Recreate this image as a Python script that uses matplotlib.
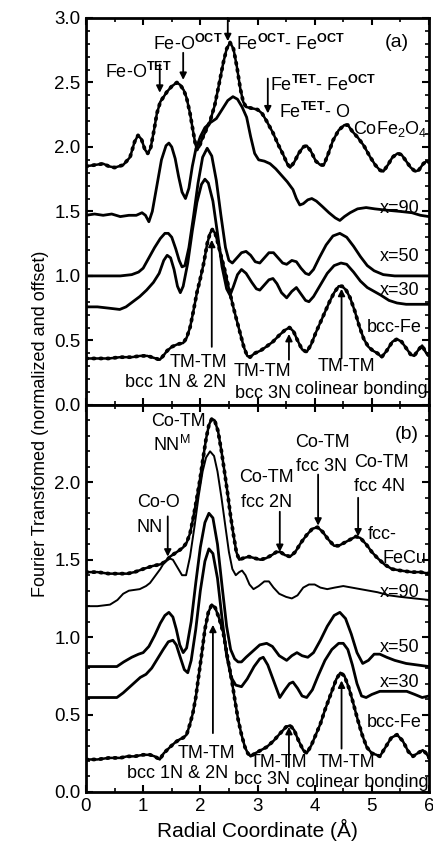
import matplotlib
matplotlib.use("Agg")
import matplotlib.pyplot as plt
from matplotlib.ticker import MultipleLocator
import matplotlib.font_manager as fm

plt.rcParams['font.family'] = ['Liberation Sans', 'DejaVu Sans']
plt.rcParams['mathtext.fontset'] = 'custom'
plt.rcParams['mathtext.rm'] = 'Liberation Sans'
plt.rcParams['mathtext.bf'] = 'Liberation Sans:bold'
plt.rcParams['mathtext.it'] = 'Liberation Sans:italic'

# ---------------- panel (a) data ----------------
a_cofe_r = [0.00, 0.15, 0.30, 0.40, 0.50, 0.65, 0.77, 0.85, 0.91, 0.97, 1.03, 1.08, 1.13, 1.19, 1.24, 1.30, 1.36, 1.42, 1.50, 1.59, 1.65, 1.71, 1.76, 1.82, 1.87, 1.91, 1.94, 1.98, 2.03, 2.10, 2.17, 2.25, 2.32, 2.40, 2.46, 2.52, 2.58, 2.64, 2.70, 2.75, 2.80, 2.90, 3.00, 3.08, 3.16, 3.27, 3.36, 3.45, 3.52, 3.57, 3.64, 3.72, 3.80, 3.86, 3.93, 4.02, 4.10, 4.16, 4.24, 4.32, 4.42, 4.52, 4.58, 4.66, 4.76, 4.86, 4.96, 5.06, 5.14, 5.20, 5.28, 5.36, 5.45, 5.52, 5.60, 5.68, 5.76, 5.82, 5.90, 5.96, 6.00]
a_cofe_y = [1.85, 1.86, 1.87, 1.85, 1.84, 1.86, 1.92, 2.04, 2.09, 2.06, 1.98, 1.95, 1.99, 2.13, 2.26, 2.35, 2.39, 2.43, 2.47, 2.50, 2.48, 2.44, 2.38, 2.26, 2.13, 2.03, 1.98, 2.00, 2.06, 2.13, 2.20, 2.32, 2.47, 2.65, 2.76, 2.81, 2.76, 2.62, 2.45, 2.35, 2.31, 2.30, 2.29, 2.26, 2.20, 2.11, 2.02, 1.94, 1.87, 1.84, 1.88, 1.95, 2.00, 2.01, 1.97, 1.89, 1.86, 1.86, 1.95, 2.05, 2.13, 2.17, 2.17, 2.12, 2.07, 2.01, 1.93, 1.86, 1.82, 1.81, 1.86, 1.92, 1.95, 1.94, 1.89, 1.84, 1.81, 1.82, 1.87, 1.89, 1.88]

a_x90_r = [0.00, 0.15, 0.30, 0.45, 0.60, 0.75, 0.88, 0.98, 1.04, 1.10, 1.16, 1.24, 1.32, 1.40, 1.45, 1.50, 1.56, 1.62, 1.68, 1.74, 1.80, 1.86, 1.92, 2.00, 2.08, 2.18, 2.28, 2.38, 2.48, 2.57, 2.65, 2.73, 2.81, 2.88, 2.95, 3.02, 3.12, 3.22, 3.32, 3.42, 3.52, 3.62, 3.68, 3.74, 3.80, 3.88, 3.95, 4.03, 4.13, 4.25, 4.36, 4.44, 4.52, 4.62, 4.75, 4.90, 5.05, 5.25, 5.50, 5.70, 5.85, 6.00]
a_x90_y = [1.47, 1.48, 1.47, 1.48, 1.46, 1.47, 1.47, 1.49, 1.47, 1.42, 1.50, 1.70, 1.90, 2.01, 2.03, 2.00, 1.91, 1.77, 1.65, 1.60, 1.68, 1.85, 1.98, 2.08, 2.15, 2.19, 2.22, 2.29, 2.36, 2.39, 2.37, 2.31, 2.23, 2.08, 1.95, 1.90, 1.89, 1.87, 1.83, 1.78, 1.73, 1.67, 1.60, 1.55, 1.56, 1.59, 1.60, 1.58, 1.54, 1.49, 1.45, 1.43, 1.46, 1.49, 1.52, 1.53, 1.52, 1.51, 1.50, 1.49, 1.47, 1.46]

a_x50_r = [0.00, 0.30, 0.60, 0.80, 0.92, 1.00, 1.10, 1.20, 1.30, 1.38, 1.44, 1.50, 1.57, 1.63, 1.68, 1.73, 1.80, 1.88, 1.96, 2.04, 2.12, 2.20, 2.28, 2.36, 2.44, 2.50, 2.56, 2.64, 2.72, 2.80, 2.88, 2.96, 3.04, 3.12, 3.20, 3.28, 3.36, 3.44, 3.51, 3.60, 3.68, 3.76, 3.84, 3.90, 3.98, 4.08, 4.20, 4.32, 4.44, 4.56, 4.68, 4.80, 4.92, 5.04, 5.20, 5.40, 5.70, 6.00]
a_x50_y = [1.00, 1.00, 1.00, 1.01, 1.03, 1.06, 1.14, 1.22, 1.29, 1.33, 1.33, 1.30, 1.21, 1.12, 1.07, 1.08, 1.22, 1.46, 1.72, 1.92, 1.99, 1.93, 1.74, 1.47, 1.22, 1.12, 1.10, 1.14, 1.18, 1.19, 1.16, 1.11, 1.10, 1.14, 1.18, 1.18, 1.14, 1.10, 1.09, 1.12, 1.11, 1.06, 1.02, 1.01, 1.05, 1.14, 1.24, 1.31, 1.33, 1.30, 1.23, 1.15, 1.08, 1.04, 1.01, 1.00, 1.00, 1.00]

a_x30_r = [0.00, 0.20, 0.40, 0.59, 0.70, 0.82, 0.94, 1.06, 1.18, 1.28, 1.36, 1.42, 1.48, 1.54, 1.60, 1.65, 1.70, 1.78, 1.86, 1.94, 2.02, 2.08, 2.14, 2.22, 2.30, 2.38, 2.46, 2.52, 2.58, 2.65, 2.72, 2.80, 2.90, 2.98, 3.04, 3.12, 3.20, 3.27, 3.34, 3.42, 3.51, 3.60, 3.68, 3.76, 3.84, 3.90, 3.98, 4.10, 4.22, 4.34, 4.46, 4.56, 4.68, 4.80, 4.92, 5.04, 5.16, 5.30, 5.44, 5.60, 5.80, 6.00]
a_x30_y = [0.76, 0.76, 0.75, 0.74, 0.76, 0.80, 0.84, 0.89, 0.95, 1.02, 1.12, 1.16, 1.14, 1.05, 0.92, 0.87, 0.92, 1.10, 1.35, 1.57, 1.71, 1.75, 1.72, 1.58, 1.33, 1.07, 0.90, 0.85, 0.92, 1.01, 1.05, 1.02, 0.95, 0.90, 0.89, 0.93, 0.97, 0.98, 0.94, 0.87, 0.83, 0.88, 0.91, 0.86, 0.81, 0.80, 0.84, 0.93, 1.02, 1.08, 1.10, 1.09, 1.03, 0.96, 0.91, 0.88, 0.85, 0.81, 0.79, 0.78, 0.78, 0.78]

a_bcc_r = [0.00, 0.20, 0.40, 0.60, 0.80, 0.95, 1.07, 1.15, 1.22, 1.29, 1.35, 1.42, 1.50, 1.60, 1.70, 1.76, 1.82, 1.88, 1.94, 2.00, 2.06, 2.12, 2.17, 2.21, 2.26, 2.31, 2.36, 2.43, 2.50, 2.57, 2.64, 2.70, 2.76, 2.82, 2.87, 2.95, 3.05, 3.15, 3.27, 3.38, 3.48, 3.56, 3.63, 3.70, 3.78, 3.86, 3.94, 4.02, 4.10, 4.18, 4.26, 4.34, 4.42, 4.48, 4.55, 4.62, 4.70, 4.78, 4.86, 4.94, 5.02, 5.10, 5.17, 5.26, 5.36, 5.44, 5.52, 5.60, 5.68, 5.74, 5.82, 5.88, 5.94, 6.00]
a_bcc_y = [0.36, 0.36, 0.36, 0.37, 0.37, 0.38, 0.38, 0.37, 0.36, 0.35, 0.38, 0.42, 0.45, 0.47, 0.48, 0.52, 0.60, 0.73, 0.87, 0.98, 1.10, 1.25, 1.33, 1.36, 1.33, 1.25, 1.16, 1.04, 0.90, 0.77, 0.65, 0.55, 0.45, 0.38, 0.37, 0.40, 0.42, 0.45, 0.49, 0.54, 0.58, 0.60, 0.57, 0.50, 0.43, 0.41, 0.47, 0.56, 0.64, 0.72, 0.80, 0.87, 0.92, 0.92, 0.89, 0.83, 0.73, 0.61, 0.51, 0.45, 0.42, 0.40, 0.37, 0.42, 0.49, 0.51, 0.49, 0.44, 0.39, 0.38, 0.43, 0.46, 0.41, 0.38]

# ---------------- panel (b) data ----------------
b_fecu_r = [0.00, 0.20, 0.40, 0.60, 0.72, 0.85, 1.00, 1.17, 1.30, 1.40, 1.47, 1.55, 1.63, 1.70, 1.76, 1.82, 1.87, 1.93, 1.99, 2.05, 2.10, 2.15, 2.20, 2.25, 2.31, 2.37, 2.43, 2.48, 2.53, 2.58, 2.63, 2.68, 2.75, 2.85, 2.95, 3.05, 3.15, 3.25, 3.33, 3.40, 3.48, 3.57, 3.66, 3.76, 3.86, 3.96, 4.05, 4.14, 4.24, 4.34, 4.42, 4.52, 4.62, 4.72, 4.80, 4.90, 5.00, 5.10, 5.22, 5.35, 5.50, 5.70, 5.85, 6.00]
b_fecu_y = [1.42, 1.42, 1.41, 1.41, 1.41, 1.42, 1.44, 1.46, 1.47, 1.49, 1.52, 1.54, 1.56, 1.58, 1.61, 1.67, 1.76, 1.88, 2.01, 2.16, 2.28, 2.37, 2.41, 2.40, 2.33, 2.20, 2.05, 1.92, 1.78, 1.66, 1.55, 1.50, 1.51, 1.52, 1.51, 1.50, 1.51, 1.53, 1.55, 1.55, 1.53, 1.52, 1.55, 1.61, 1.66, 1.70, 1.71, 1.68, 1.63, 1.59, 1.59, 1.61, 1.63, 1.65, 1.64, 1.60, 1.55, 1.51, 1.47, 1.44, 1.43, 1.42, 1.42, 1.41]

b_x90_r = [0.00, 0.20, 0.42, 0.55, 0.65, 0.75, 0.94, 1.05, 1.12, 1.22, 1.30, 1.38, 1.45, 1.52, 1.60, 1.68, 1.75, 1.82, 1.90, 1.97, 2.04, 2.10, 2.17, 2.24, 2.30, 2.37, 2.44, 2.50, 2.56, 2.62, 2.68, 2.73, 2.79, 2.86, 2.93, 3.02, 3.12, 3.20, 3.28, 3.38, 3.50, 3.60, 3.70, 3.80, 3.90, 4.00, 4.10, 4.22, 4.35, 4.50, 4.65, 4.80, 4.95, 5.10, 5.30, 5.50, 5.75, 6.00]
b_x90_y = [1.20, 1.20, 1.21, 1.24, 1.28, 1.30, 1.31, 1.33, 1.35, 1.40, 1.44, 1.49, 1.51, 1.50, 1.45, 1.40, 1.40, 1.52, 1.72, 1.91, 2.07, 2.16, 2.20, 2.17, 2.07, 1.90, 1.71, 1.55, 1.44, 1.40, 1.42, 1.43, 1.40, 1.34, 1.31, 1.33, 1.36, 1.36, 1.32, 1.28, 1.26, 1.25, 1.27, 1.32, 1.34, 1.34, 1.32, 1.31, 1.32, 1.33, 1.32, 1.31, 1.30, 1.29, 1.27, 1.26, 1.25, 1.24]

b_x50_r = [0.00, 0.20, 0.40, 0.54, 0.66, 0.80, 0.92, 1.00, 1.10, 1.20, 1.30, 1.38, 1.45, 1.52, 1.58, 1.64, 1.70, 1.76, 1.84, 1.92, 2.00, 2.08, 2.15, 2.22, 2.30, 2.38, 2.46, 2.53, 2.60, 2.66, 2.72, 2.80, 2.92, 3.04, 3.16, 3.26, 3.38, 3.51, 3.60, 3.69, 3.78, 3.88, 3.98, 4.10, 4.22, 4.34, 4.44, 4.54, 4.64, 4.74, 4.84, 4.94, 5.04, 5.14, 5.26, 5.40, 5.60, 5.80, 6.00]
b_x50_y = [0.81, 0.81, 0.81, 0.81, 0.84, 0.87, 0.89, 0.90, 0.94, 1.01, 1.09, 1.14, 1.16, 1.13, 1.05, 0.95, 0.90, 0.93, 1.10, 1.35, 1.58, 1.74, 1.80, 1.77, 1.60, 1.33, 1.07, 0.92, 0.86, 0.84, 0.84, 0.87, 0.91, 0.95, 0.96, 0.94, 0.88, 0.85, 0.88, 0.90, 0.88, 0.87, 0.90, 0.98, 1.07, 1.14, 1.16, 1.12, 1.02, 0.90, 0.83, 0.85, 0.89, 0.89, 0.87, 0.85, 0.83, 0.82, 0.81]

b_x30_r = [0.00, 0.20, 0.40, 0.54, 0.65, 0.80, 0.95, 1.05, 1.15, 1.25, 1.35, 1.44, 1.52, 1.58, 1.64, 1.72, 1.78, 1.84, 1.92, 2.00, 2.08, 2.15, 2.22, 2.30, 2.38, 2.46, 2.54, 2.62, 2.72, 2.82, 2.94, 3.04, 3.10, 3.18, 3.28, 3.39, 3.48, 3.56, 3.62, 3.70, 3.78, 3.86, 3.96, 4.06, 4.18, 4.30, 4.42, 4.50, 4.58, 4.66, 4.74, 4.82, 4.90, 5.00, 5.14, 5.30, 5.45, 5.61, 5.75, 5.88, 6.00]
b_x30_y = [0.61, 0.61, 0.61, 0.61, 0.64, 0.69, 0.74, 0.76, 0.80, 0.86, 0.92, 0.97, 0.98, 0.95, 0.88, 0.79, 0.77, 0.85, 1.05, 1.30, 1.49, 1.57, 1.54, 1.38, 1.12, 0.88, 0.74, 0.69, 0.68, 0.73, 0.81, 0.86, 0.87, 0.82, 0.72, 0.61, 0.66, 0.70, 0.71, 0.67, 0.62, 0.61, 0.66, 0.75, 0.85, 0.92, 0.96, 0.96, 0.92, 0.82, 0.70, 0.62, 0.61, 0.63, 0.65, 0.65, 0.65, 0.65, 0.63, 0.61, 0.62]

b_bcc_r = [0.00, 0.20, 0.40, 0.60, 0.72, 0.85, 1.00, 1.12, 1.20, 1.29, 1.36, 1.47, 1.56, 1.64, 1.70, 1.76, 1.82, 1.87, 1.92, 1.96, 2.02, 2.08, 2.14, 2.20, 2.26, 2.33, 2.40, 2.47, 2.55, 2.61, 2.66, 2.72, 2.78, 2.83, 2.88, 2.96, 3.06, 3.16, 3.28, 3.40, 3.50, 3.57, 3.64, 3.72, 3.80, 3.86, 3.94, 4.02, 4.10, 4.18, 4.28, 4.38, 4.45, 4.52, 4.60, 4.67, 4.75, 4.83, 4.91, 5.00, 5.08, 5.14, 5.24, 5.34, 5.44, 5.54, 5.64, 5.72, 5.80, 5.89, 5.95, 6.00]
b_bcc_y = [0.21, 0.21, 0.22, 0.22, 0.23, 0.23, 0.24, 0.24, 0.23, 0.21, 0.25, 0.29, 0.32, 0.34, 0.35, 0.37, 0.44, 0.51, 0.61, 0.72, 0.88, 1.05, 1.16, 1.21, 1.19, 1.12, 1.03, 0.88, 0.72, 0.58, 0.47, 0.37, 0.29, 0.25, 0.23, 0.25, 0.27, 0.29, 0.33, 0.38, 0.42, 0.43, 0.40, 0.33, 0.27, 0.25, 0.30, 0.37, 0.44, 0.53, 0.63, 0.73, 0.77, 0.75, 0.67, 0.58, 0.47, 0.37, 0.29, 0.25, 0.24, 0.23, 0.29, 0.35, 0.37, 0.33, 0.26, 0.23, 0.25, 0.27, 0.25, 0.22]

ylims_a = (0.0, 3.0)
ylims_b = (0.0, 2.5)
yticks_a = [0.0, 0.5, 1.0, 1.5, 2.0, 2.5, 3.0]
yticks_b = [0.0, 0.5, 1.0, 1.5, 2.0]
xticks = [0, 1, 2, 3, 4, 5, 6]

FS = 13

fig = plt.figure(figsize=(4.33, 8.56), dpi=100)
axL, axR = 0.1986, 0.9908
ax_a = fig.add_axes([axL, 0.527, axR - axL, 0.979 - 0.527])
ax_b = fig.add_axes([axL, 0.0748, axR - axL, 0.527 - 0.0748])


def data_curve(ax, r, y):
    ax.plot(r, y, color='k', lw=1.8, solid_capstyle='round')
    ax.plot(r, y, color='k', lw=2.7, ls=(0, (0.4, 1.5)), dash_capstyle='round')


def line_curve(ax, r, y, lw=2.0):
    ax.plot(r, y, color='k', lw=lw, solid_joinstyle='round')


def arrow(ax, x, y0, y1):
    ax.annotate('', xy=(x, y1), xytext=(x, y0),
                arrowprops=dict(arrowstyle='-|>', color='k', lw=1.3,
                                mutation_scale=10, shrinkA=0, shrinkB=0))


for ax in (ax_a, ax_b):
    ax.set_xlim(0, 6)
    ax.xaxis.set_major_locator(MultipleLocator(1))
    ax.xaxis.set_minor_locator(MultipleLocator(0.5))
    ax.yaxis.set_minor_locator(MultipleLocator(0.1))
    ax.tick_params(which='both', direction='in', top=True, right=True, width=1.5)
    ax.tick_params(which='major', length=5, labelsize=FS + 0.5, pad=4)
    ax.tick_params(which='minor', length=3, width=1.2)
    for s in ax.spines.values():
        s.set_linewidth(2.0)

# ---- panel (a)
ax_a.set_ylim(*ylims_a)
ax_a.set_yticks(yticks_a)
ax_a.set_yticklabels([f"{v:.1f}" for v in yticks_a])
ax_a.tick_params(labelbottom=False)
data_curve(ax_a, a_cofe_r, a_cofe_y)
line_curve(ax_a, a_x90_r, a_x90_y)
line_curve(ax_a, a_x50_r, a_x50_y)
line_curve(ax_a, a_x30_r, a_x30_y)
data_curve(ax_a, a_bcc_r, a_bcc_y)

ax_a.text(5.44, 2.81, '(a)', fontsize=FS + 1, ha='center', va='center')
ax_a.text(0.92, 2.58, r'Fe-O$^{\mathbf{TET}}$', fontsize=FS, ha='center', va='center')
arrow(ax_a, 1.29, 2.64, 2.42)
ax_a.text(1.78, 2.80, r'Fe-O$^{\mathbf{OCT}}$', fontsize=FS, ha='center', va='center')
arrow(ax_a, 1.70, 2.73, 2.52)
ax_a.text(2.62, 2.80, r'Fe$^{\mathbf{OCT}}$- Fe$^{\mathbf{OCT}}$', fontsize=FS, ha='left', va='center')
arrow(ax_a, 2.48, 3.0, 2.82)
ax_a.text(3.22, 2.48, r'Fe$^{\mathbf{TET}}$- Fe$^{\mathbf{OCT}}$', fontsize=FS, ha='left', va='center')
ax_a.text(3.38, 2.27, r'Fe$^{\mathbf{TET}}$- O', fontsize=FS, ha='left', va='center')
arrow(ax_a, 3.18, 2.53, 2.26)
ax_a.text(4.67, 2.14, r'CoFe$_2$O$_4$', fontsize=FS, ha='left', va='center')
ax_a.text(5.84, 1.52, 'x=90', fontsize=FS, ha='right', va='center')
ax_a.text(5.84, 1.15, 'x=50', fontsize=FS, ha='right', va='center')
ax_a.text(5.84, 0.89, 'x=30', fontsize=FS, ha='right', va='center')
ax_a.text(5.88, 0.60, 'bcc-Fe', fontsize=FS, ha='right', va='center')
ax_a.text(1.96, 0.33, 'TM-TM', fontsize=FS, ha='center', va='center')
ax_a.text(1.57, 0.17, 'bcc 1N & 2N', fontsize=FS, ha='center', va='center')
arrow(ax_a, 2.20, 0.45, 1.28)
ax_a.text(3.08, 0.26, 'TM-TM', fontsize=FS, ha='center', va='center')
ax_a.text(3.09, 0.09, 'bcc 3N', fontsize=FS, ha='center', va='center')
arrow(ax_a, 3.55, 0.35, 0.55)
ax_a.text(4.55, 0.30, 'TM-TM', fontsize=FS, ha='center', va='center')
ax_a.text(4.82, 0.12, 'colinear bonding', fontsize=FS, ha='center', va='center')
arrow(ax_a, 4.47, 0.36, 0.90)

# ---- panel (b)
ax_b.set_ylim(*ylims_b)
ax_b.set_yticks(yticks_b)
ax_b.set_yticklabels([f"{v:.1f}" for v in yticks_b])
ax_b.set_xticks(xticks)
ax_b.set_xticklabels([str(v) for v in xticks])
data_curve(ax_b, b_fecu_r, b_fecu_y)
line_curve(ax_b, b_x90_r, b_x90_y, lw=1.4)
line_curve(ax_b, b_x50_r, b_x50_y)
line_curve(ax_b, b_x30_r, b_x30_y)
data_curve(ax_b, b_bcc_r, b_bcc_y)

ax_b.text(5.61, 2.31, '(b)', fontsize=FS + 1, ha='center', va='center')
ax_b.text(1.62, 2.39, 'Co-TM', fontsize=FS, ha='center', va='center')
ax_b.text(1.50, 2.24, r'NN$^{\mathrm{M}}$', fontsize=FS, ha='center', va='center')
ax_b.text(1.26, 1.87, 'Co-O', fontsize=FS, ha='center', va='center')
ax_b.text(1.12, 1.71, 'NN', fontsize=FS, ha='center', va='center')
arrow(ax_b, 1.43, 1.78, 1.52)
ax_b.text(3.16, 2.03, 'Co-TM', fontsize=FS, ha='center', va='center')
ax_b.text(3.15, 1.87, 'fcc 2N', fontsize=FS, ha='center', va='center')
arrow(ax_b, 3.39, 1.81, 1.55)
ax_b.text(4.14, 2.26, 'Co-TM', fontsize=FS, ha='center', va='center')
ax_b.text(4.12, 2.10, 'fcc 3N', fontsize=FS, ha='center', va='center')
arrow(ax_b, 4.06, 2.05, 1.72)
ax_b.text(5.17, 2.13, 'Co-TM', fontsize=FS, ha='center', va='center')
ax_b.text(5.14, 1.97, 'fcc 4N', fontsize=FS, ha='center', va='center')
arrow(ax_b, 4.76, 1.90, 1.65)
ax_b.text(4.93, 1.66, 'fcc-', fontsize=FS, ha='left', va='center')
ax_b.text(5.19, 1.51, 'FeCu', fontsize=FS, ha='left', va='center')
ax_b.text(5.84, 1.29, 'x=90', fontsize=FS, ha='right', va='center')
ax_b.text(5.84, 0.93, 'x=50', fontsize=FS, ha='right', va='center')
ax_b.text(5.84, 0.71, 'x=30', fontsize=FS, ha='right', va='center')
ax_b.text(5.88, 0.45, 'bcc-Fe', fontsize=FS, ha='right', va='center')
ax_b.text(2.10, 0.25, 'TM-TM', fontsize=FS, ha='center', va='center')
ax_b.text(1.60, 0.12, 'bcc 1N & 2N', fontsize=FS, ha='center', va='center')
arrow(ax_b, 2.22, 0.38, 1.08)
ax_b.text(3.36, 0.19, 'TM-TM', fontsize=FS, ha='center', va='center')
ax_b.text(3.08, 0.08, 'bcc 3N', fontsize=FS, ha='center', va='center')
arrow(ax_b, 3.55, 0.16, 0.42)
ax_b.text(4.56, 0.19, 'TM-TM', fontsize=FS, ha='center', va='center')
ax_b.text(4.84, 0.06, 'colinear bonding', fontsize=FS, ha='center', va='center')
arrow(ax_b, 4.47, 0.28, 0.72)

ax_b.set_xlabel('Radial Coordinate (Å)', fontsize=FS + 2, labelpad=3)

narrow = [f.name for f in fm.fontManager.ttflist if 'Narrow' in f.name]
yfam = ['Liberation Sans Narrow', 'DejaVu Sans'] if 'Liberation Sans Narrow' in narrow else ['Liberation Sans', 'DejaVu Sans']
fig.text(0.093, 0.505, 'Fourier Transfomed (normalized and offset)', rotation=90,
         ha='center', va='center', fontsize=13, family=yfam)

fig.savefig('out.png', dpi=100)
